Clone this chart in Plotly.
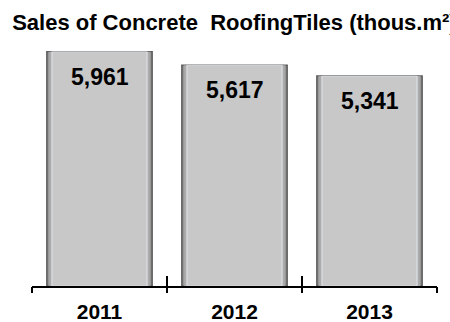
import plotly.graph_objects as go

years = ["2011", "2012", "2013"]
sales = [5961, 5617, 5341]
labels = ["5,961", "5,617", "5,341"]
title = "Sales of Concrete  RoofingTiles (thous.m²)"

FONT = "Liberation Sans, Arial"

fig = go.Figure()
# outer (dark bevel edge)
fig.add_trace(go.Bar(x=years, y=sales, width=0.78,
                     marker=dict(color="#8a8a8a", line=dict(color="#5e5e5e", width=1.5)),
                     hoverinfo="skip", showlegend=False))
# mid bevel
fig.add_trace(go.Bar(x=years, y=sales, width=0.755,
                     marker=dict(color="#a8a8a8", line=dict(width=0)),
                     hoverinfo="skip", showlegend=False))
# inner face
fig.add_trace(go.Bar(x=years, y=sales, width=0.72,
                     marker=dict(color="#c8c8c8", line=dict(width=0)),
                     hoverinfo="skip", showlegend=False))
# dummy trace for the second tick axis
fig.add_trace(go.Bar(x=years, y=sales, width=0.7, xaxis="x2",
                     marker=dict(color="rgba(0,0,0,0)"), hoverinfo="skip", showlegend=False))

for i, (v, lab) in enumerate(zip(sales, labels)):
    fig.add_annotation(x=i, y=v, xref="x", yref="y", text="<b>" + lab + "</b>", showarrow=False,
                       yshift=-25, font=dict(family=FONT, size=23, color="#000"))

fig.update_layout(
    width=450, height=322,
    margin=dict(l=32, r=13, t=40, b=36, autoexpand=False),
    paper_bgcolor="white", plot_bgcolor="white",
    barmode="overlay",
    title=dict(text="<b>" + title + "</b>", x=0.027, xanchor="left", y=0.93, yanchor="middle",
               font=dict(family=FONT, size=22, color="#000"), automargin=False),
    xaxis=dict(type="category", categoryarray=years, range=[-0.5, 2.5], automargin=False,
               showline=True, linecolor="#000", linewidth=1.5,
               ticks="inside", ticklen=10, tickcolor="#000", tickwidth=1.5, tickson="boundaries",
               showgrid=False, tickfont=dict(family=FONT, size=21, color="#000", weight="bold"),
               ticklabelstandoff=6),
    xaxis2=dict(type="category", categoryarray=years, range=[-0.5, 2.5], automargin=False,
                overlaying="x", anchor="y", side="bottom",
                showline=False, ticks="outside", ticklen=6, tickcolor="#000", tickwidth=1.5,
                tickson="boundaries", showticklabels=False, showgrid=False),
    yaxis=dict(range=[0, 6260], visible=False, showgrid=False, automargin=False),
)

fig.write_html("out.html")
